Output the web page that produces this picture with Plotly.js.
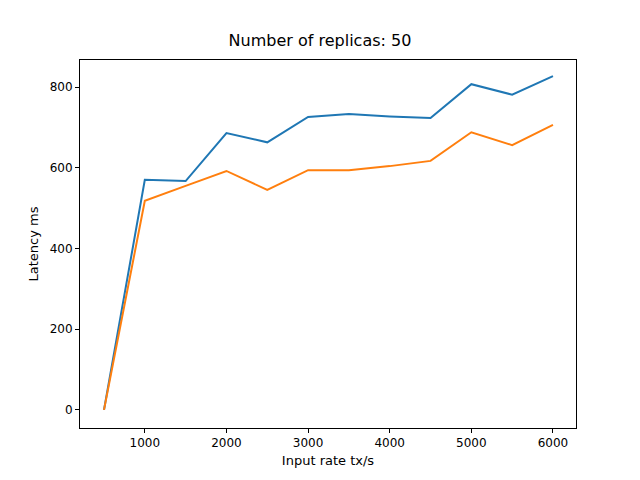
<!DOCTYPE html>
<html>
<head>
<meta charset="utf-8">
<script src="https://cdn.plot.ly/plotly-3.0.1.min.js"></script>
<style>body{margin:0}</style>
</head>
<body>
<div id="chart" style="width:640px;height:480px"></div>
<script>
let rates = [500, 1000, 1500, 2000, 2500, 3000, 3500, 4000, 4500, 5000, 5500, 6000]
let latencyBlue = [0, 570, 567, 686, 663, 726, 733, 727, 723, 807, 781, 827]
let latencyOrange = [0, 518, 555, 592, 545, 594, 594, 604, 617, 688, 656, 706]

let traces = [
    { x: rates, y: latencyBlue, type: 'scatter', mode: 'lines', line: { color: '#1f77b4', width: 2 } },
    { x: rates, y: latencyOrange, type: 'scatter', mode: 'lines', line: { color: '#ff7f0e', width: 2 } }
]

let layout = {
    width: 640, height: 480,
    margin: { l: 80, r: 64, t: 60, b: 52 },
    showlegend: false,
    paper_bgcolor: 'white', plot_bgcolor: 'white',
    font: { family: 'DejaVu Sans', size: 12, color: 'black' },
    title: { text: 'Number of replicas: 50', font: { size: 16 }, x: 0.5, xanchor: 'center', y: 0.915, yanchor: 'middle' },
    xaxis: {
        title: { text: 'Input rate tx/s', font: { size: 13 }, standoff: 6 },
        range: [206, 6282], tickvals: [1000, 2000, 3000, 4000, 5000, 6000],
        showgrid: false, zeroline: false, showline: true, mirror: true, linecolor: 'black',
        ticks: 'outside', ticklen: 4, tickcolor: 'black'
    },
    yaxis: {
        title: { text: 'Latency ms', font: { size: 13 }, standoff: 8 },
        range: [-45, 867], tickvals: [0, 200, 400, 600, 800],
        showgrid: false, zeroline: false, showline: true, mirror: true, linecolor: 'black',
        ticks: 'outside', ticklen: 4, tickcolor: 'black'
    }
}

Plotly.newPlot('chart', traces, layout, { displayModeBar: false })
</script>
</body>
</html>
